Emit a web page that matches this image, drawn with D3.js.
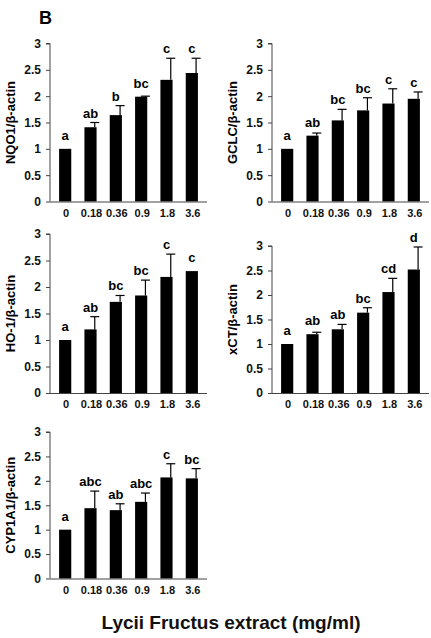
<!DOCTYPE html>
<head><title>Lycii Fructus extract - panel B</title></head>
<style>
  body { margin: 0; background: #fff; }
  text { font-family: "Liberation Sans", Arial, sans-serif; font-weight: bold; }
</style>
<body>
<svg width="431" height="638"></svg>

<script src="https://d3js.org/d3.v7.min.js"></script>
<script>
// doses (mg/ml) on the x axis
var doses = ["0", "0.18", "0.36", "0.9", "1.8", "3.6"];
var yTicks = [0, 0.5, 1, 1.5, 2, 2.5, 3];

var nqo1Mean = [1.0, 1.41, 1.64, 1.99, 2.31, 2.44];
var nqo1Err = [0, 0.09, 0.18, 0.01, 0.41, 0.28];
var nqo1Letters = ["a", "ab", "b", "bc", "c", "c"];

var gclcMean = [1.0, 1.25, 1.54, 1.73, 1.86, 1.95];
var gclcErr = [0, 0.05, 0.21, 0.24, 0.28, 0.13];
var gclcLetters = ["a", "ab", "bc", "bc", "c", "c"];

var ho1Mean = [1.0, 1.20, 1.72, 1.84, 2.19, 2.30];
var ho1Err = [0, 0.24, 0.12, 0.29, 0.43, 0];
var ho1Letters = ["a", "ab", "bc", "bc", "c", "c"];

var xctMean = [1.0, 1.20, 1.30, 1.64, 2.06, 2.52];
var xctErr = [0, 0.04, 0.10, 0.10, 0.28, 0.46];
var xctLetters = ["a", "ab", "ab", "bc", "cd", "d"];

var cypMean = [1.0, 1.44, 1.40, 1.57, 2.07, 2.05];
var cypErr = [0, 0.35, 0.13, 0.18, 0.28, 0.20];
var cypLetters = ["a", "abc", "ab", "abc", "c", "bc"];

var svg = d3.select("svg");

// panel boxes: left x of y axis, y of value 0, y of value 3
var panels = [
  {label: "NQO1/\u03b2-actin",   mean: nqo1Mean, err: nqo1Err, letters: nqo1Letters, x0: 50,  yBot: 201.5, yTop: 43.5},
  {label: "GCLC/\u03b2-actin",   mean: gclcMean, err: gclcErr, letters: gclcLetters, x0: 272, yBot: 201.5, yTop: 43.5},
  {label: "HO-1/\u03b2-actin",   mean: ho1Mean,  err: ho1Err,  letters: ho1Letters,  x0: 50,  yBot: 393,   yTop: 234},
  {label: "xCT/\u03b2-actin",    mean: xctMean,  err: xctErr,  letters: xctLetters,  x0: 272, yBot: 393,   yTop: 246},
  {label: "CYP1A1/\u03b2-actin", mean: cypMean,  err: cypErr,  letters: cypLetters,  x0: 50,  yBot: 578.5, yTop: 432}
];

svg.append("text")
    .attr("x", 39)
    .attr("y", 24)
    .attr("font-size", 18)
    .text("B");

panels.forEach(function(p) {
  var x = d3.scaleBand()
      .domain(doses)
      .range([p.x0 + 2, p.x0 + 155])
      .paddingInner(0.52)
      .paddingOuter(0.28);

  var y = d3.scaleLinear()
      .domain([0, 3])
      .range([p.yBot, p.yTop]);

  var g = svg.append("g");

  var rows = doses.map(function(d, i) {
    return {dose: d, mean: p.mean[i], err: p.err[i], letter: p.letters[i]};
  });

  g.selectAll("rect")
    .data(rows)
    .enter().append("rect")
      .attr("x", function(d) { return x(d.dose); })
      .attr("y", function(d) { return y(d.mean); })
      .attr("width", x.bandwidth())
      .attr("height", function(d) { return y(0) - y(d.mean); })
      .attr("fill", "#000");

  // upper error bars, sitting toward the right of each bar
  var eb = g.selectAll(".err")
    .data(rows.filter(function(d) { return d.err > 0; }))
    .enter().append("g")
      .attr("class", "err")
      .attr("transform", function(d) { return "translate(" + (x(d.dose) + x.bandwidth() * 0.85) + ",0)"; });

  eb.append("line")
      .attr("y1", function(d) { return y(d.mean); })
      .attr("y2", function(d) { return y(d.mean + d.err); })
      .attr("stroke", "#000")
      .attr("stroke-width", 1.2);

  eb.append("line")
      .attr("x1", -4.5)
      .attr("x2", 4.5)
      .attr("y1", function(d) { return y(d.mean + d.err); })
      .attr("y2", function(d) { return y(d.mean + d.err); })
      .attr("stroke", "#000")
      .attr("stroke-width", 1.2);

  g.selectAll(".letter")
    .data(rows)
    .enter().append("text")
      .attr("class", "letter")
      .attr("x", function(d) { return x(d.dose) + x.bandwidth() / 2; })
      .attr("y", function(d) { return Math.min(y(d.mean + d.err) - 5, y(d.mean) - 9); })
      .attr("text-anchor", "middle")
      .attr("font-size", 13)
      .text(function(d) { return d.letter; });

  // y axis
  var ya = g.append("g")
      .attr("transform", "translate(" + p.x0 + ",0)")
      .call(d3.axisLeft(y).tickValues(yTicks).tickSize(4).tickPadding(5)
        .tickFormat(function(d) { return String(d); }));
  ya.selectAll("text").attr("font-size", 12).attr("fill", "#111").attr("font-family", null);
  ya.selectAll("line, path").attr("stroke", "#444");
  ya.select(".domain").attr("d", "M-4," + y(3) + "H0V" + y(0));

  // x axis: bare line with labels under bars
  g.append("line")
      .attr("x1", p.x0)
      .attr("x2", p.x0 + 157)
      .attr("y1", y(0) + 0.5)
      .attr("y2", y(0) + 0.5)
      .attr("stroke", "#444");

  g.selectAll(".xl")
    .data(doses)
    .enter().append("text")
      .attr("class", "xl")
      .attr("x", function(d) { return x(d) + x.bandwidth() / 2 + 1; })
      .attr("y", y(0) + 15)
      .attr("text-anchor", "middle")
      .attr("font-size", 11)
      .attr("fill", "#111")
      .text(function(d) { return d; });

  g.append("text")
      .attr("transform", "rotate(-90)")
      .attr("x", -(p.yBot + p.yTop) / 2)
      .attr("y", p.x0 - 35)
      .attr("text-anchor", "middle")
      .attr("font-size", 13)
      .text(p.label);
});

svg.append("text")
    .attr("x", 231)
    .attr("y", 629)
    .attr("text-anchor", "middle")
    .attr("font-size", 19)
    .attr("fill", "#111")
    .text("Lycii Fructus extract (mg/ml)");
</script>
</body>
